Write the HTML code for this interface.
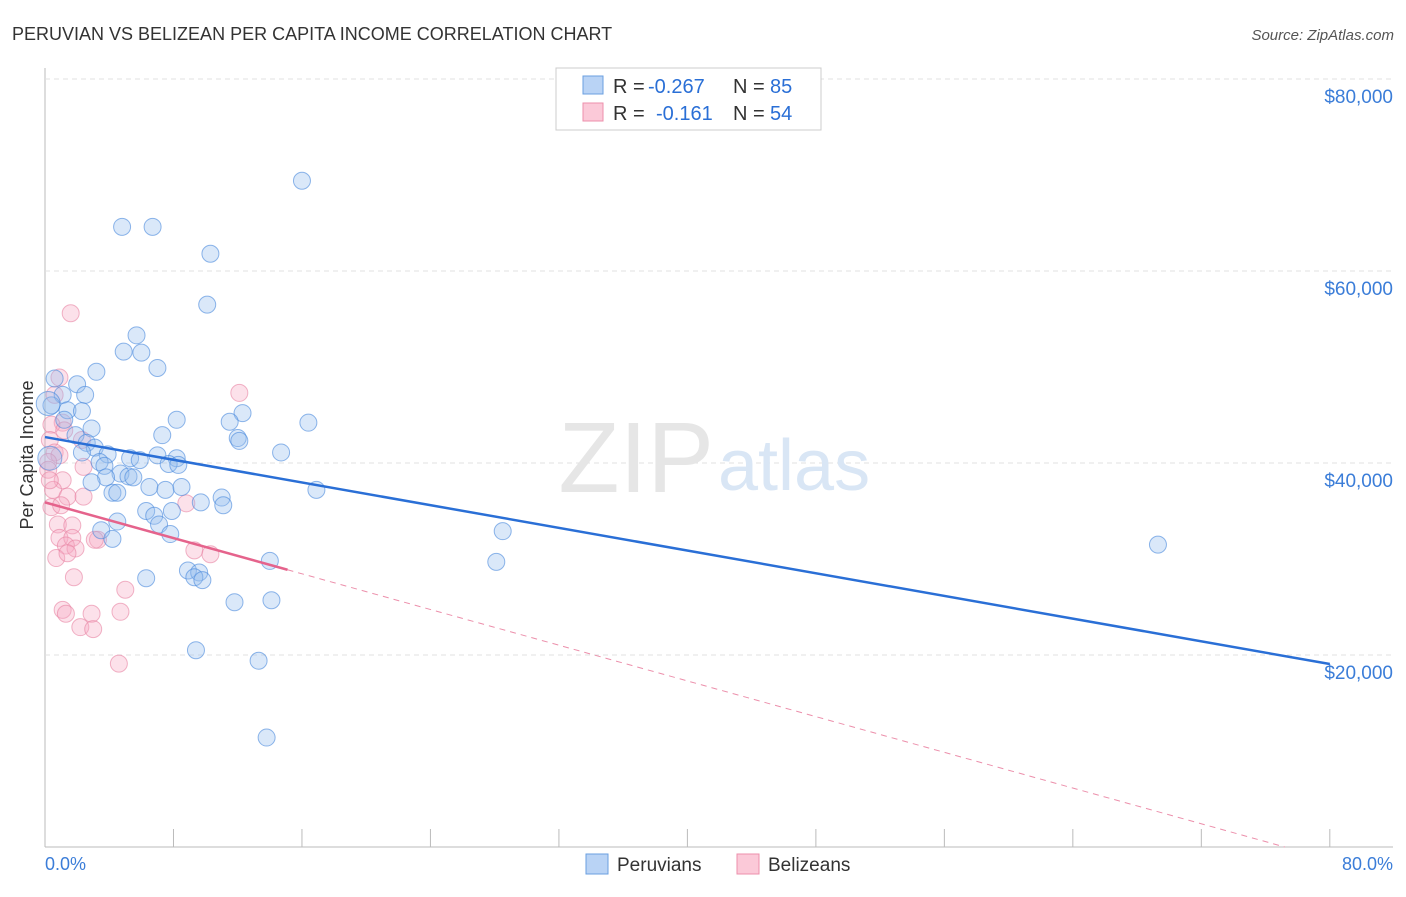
<!DOCTYPE html>
<html><head><meta charset="utf-8"><style>
body{margin:0;background:#fff;font-family:"Liberation Sans",sans-serif;}
svg text{font-family:"Liberation Sans",sans-serif;}
</style></head><body>
<svg id="chart" width="1406" height="892">
<text x="12" y="40" font-size="18" fill="#333">PERUVIAN VS BELIZEAN PER CAPITA INCOME CORRELATION CHART</text>
<text x="1394" y="40" font-size="15" fill="#555" font-style="italic" text-anchor="end">Source: ZipAtlas.com</text>
<g id="grid"></g>
<text x="714" y="492" font-size="100" fill="#e6e6e6" text-anchor="end" font-family="Liberation Serif">ZIP</text>
<text x="718" y="490" font-size="72" fill="#d9e6f5">atlas</text>
<g id="points"></g>
<g id="lines"></g>
<text x="33" y="455" font-size="18" fill="#333" text-anchor="middle" transform="rotate(-90 33 455)">Per Capita Income</text>
<text x="45" y="870" font-size="18" fill="#3b7dd8">0.0%</text>
<text x="1393" y="870" font-size="18" fill="#3b7dd8" text-anchor="end">80.0%</text>
<g>
<rect x="556" y="68" width="265" height="62" fill="#fff" stroke="#ccc"/>
<rect x="583" y="76" width="20" height="18" fill="#b9d3f5" stroke="#6a9fe0"/>
<rect x="583" y="103" width="20" height="18" fill="#fbc9d8" stroke="#ec8fab"/>
<text x="613" y="93" font-size="20" fill="#333">R =</text>
<text x="648" y="93" font-size="20" fill="#2a6fd6">-0.267</text>
<text x="733" y="93" font-size="20" fill="#333">N =</text>
<text x="770" y="93" font-size="20" fill="#2a6fd6">85</text>
<text x="613" y="120" font-size="20" fill="#333">R =</text>
<text x="656" y="120" font-size="20" fill="#2a6fd6">-0.161</text>
<text x="733" y="120" font-size="20" fill="#333">N =</text>
<text x="770" y="120" font-size="20" fill="#2a6fd6">54</text>
</g>
<g>
<rect x="586" y="854" width="22" height="20" fill="#b9d3f5" stroke="#6a9fe0"/>
<text x="617" y="871" font-size="19" fill="#333">Peruvians</text>
<rect x="737" y="854" width="22" height="20" fill="#fbc9d8" stroke="#ec8fab"/>
<text x="768" y="871" font-size="19" fill="#333">Belizeans</text>
</g>
</svg>
<script>
const yTicks=[20000,40000,60000,80000];
const yTickLabels=["$20,000","$40,000","$60,000","$80,000"];
const xTicks=[0,8,16,24,32,40,48,56,64,72,80];
const peruX=[16.0,4.8,6.7,10.3,10.1,5.7,4.9,6.0,7.0,3.2,0.6,2.0,1.1,2.5,0.4,1.4,2.3,12.3,11.5,8.2,16.4,1.2,2.9,7.3,1.9,12.0,12.1,2.6,3.1,14.7,2.3,3.9,7.0,5.3,5.9,8.2,3.4,7.7,8.3,3.7,4.7,5.2,5.5,3.8,2.9,6.5,7.5,8.5,16.9,4.2,4.5,11.0,9.7,11.1,6.3,7.9,6.8,7.1,4.5,3.5,28.5,7.8,4.2,69.3,14.0,28.1,8.9,9.6,9.3,6.3,9.8,11.8,14.1,9.4,13.3,13.8,0.2,0.3];
const peruY=[69.4,64.6,64.6,61.8,56.5,53.3,51.6,51.5,49.9,49.5,48.8,48.2,47.1,47.1,46.0,45.5,45.4,45.2,44.3,44.5,44.2,44.5,43.6,42.9,42.9,42.6,42.3,42.1,41.6,41.1,41.1,40.9,40.8,40.5,40.3,40.5,40.1,39.9,39.8,39.7,38.9,38.6,38.5,38.5,38.0,37.5,37.2,37.5,37.2,36.9,36.9,36.4,35.9,35.6,35.0,35.0,34.5,33.6,33.9,33.0,32.9,32.6,32.1,31.5,29.8,29.7,28.8,28.6,28.1,28.0,27.8,25.5,25.7,20.5,19.4,11.4,46.2,40.5];
const belX=[1.6,12.1,0.9,1.1,0.4,0.3,0.6,0.9,0.2,2.4,1.1,0.5,1.4,2.4,0.4,1.0,8.8,0.8,1.7,0.9,1.7,3.3,1.3,1.9,3.1,0.7,1.4,9.3,10.3,1.8,5.0,1.1,1.3,2.9,4.7,2.2,3.0,4.6,0.6,1.2,0.2,0.3,2.3];
const belY=[55.6,47.3,48.9,44.2,44.0,42.4,41.1,40.8,40.1,39.6,38.2,37.2,36.5,36.5,35.4,35.6,35.8,33.6,33.5,32.2,32.2,32.0,31.4,31.1,32.0,30.1,30.6,30.9,30.5,28.1,26.8,24.7,24.3,24.3,24.5,22.9,22.7,19.1,47.1,43.4,39.3,38.2,42.4];
const peruTrend=[42.7,19.06];
const belTrend=[35.9,-0.465];
const belSolidEnd=15.1;
const X=v=>45+v*16.06, Y=k=>847-k*9.6, Yd=d=>847-d*0.0096;
const ns="http://www.w3.org/2000/svg";
function mk(t,a,p){const e=document.createElementNS(ns,t);for(const k in a)e.setAttribute(k,a[k]);p.appendChild(e);return e;}
const g=document.getElementById('grid');
mk('line',{x1:45,y1:68,x2:45,y2:847,stroke:'#bbb'},g);
mk('line',{x1:45,y1:847,x2:1393,y2:847,stroke:'#bbb'},g);
mk('line',{x1:45,y1:79,x2:1393,y2:79,stroke:'#e0e0e0','stroke-dasharray':'5,4'},g);
yTicks.forEach((t,i)=>{
 const l=mk('line',{x1:45,y1:Yd(t),x2:1393,y2:Yd(t),stroke:'#e0e0e0','stroke-dasharray':'5,4'},g);
 
 
 const tx=mk('text',{x:1393,y:Yd(t)+24,'font-size':19,fill:'#3b7dd8','text-anchor':'end'},g);
 tx.textContent=yTickLabels[i];
 
 
});
xTicks.forEach(t=>{
 const l=mk('line',{x1:X(t),y1:829,x2:X(t),y2:847,stroke:'#bbb'},g);
 
 
});
const p=document.getElementById('points');
belX.forEach((x,i)=>{
 const c=mk('circle',{cx:X(x),cy:Y(belY[i]),r:8.5,fill:'rgba(246,170,196,0.35)',stroke:'rgba(232,130,162,0.6)','stroke-width':1},p);
 
 
});
peruX.forEach((x,i)=>{
 const c=mk('circle',{cx:X(x),cy:Y(peruY[i]),r:(i>=76?12:8.5),fill:'rgba(150,190,238,0.35)',stroke:'rgba(70,135,220,0.6)','stroke-width':1},p);
 
 
});
const L=document.getElementById('lines');
const bl=mk('line',{x1:X(0),y1:Y(peruTrend[0]),x2:X(80),y2:Y(peruTrend[1]),stroke:'#2a6fd6','stroke-width':2.5},L);


const bz=-belTrend[0]/belTrend[1];
const pd=mk('line',{x1:X(belSolidEnd),y1:Y(belTrend[0]+belTrend[1]*belSolidEnd),x2:X(bz),y2:Y(0),stroke:'#ec8fab','stroke-width':1,'stroke-dasharray':'6,5'},L);


const ps=mk('line',{x1:X(0),y1:Y(belTrend[0]),x2:X(belSolidEnd),y2:Y(belTrend[0]+belTrend[1]*belSolidEnd),stroke:'#e5638c','stroke-width':2.5},L);


</script>
</body></html>
